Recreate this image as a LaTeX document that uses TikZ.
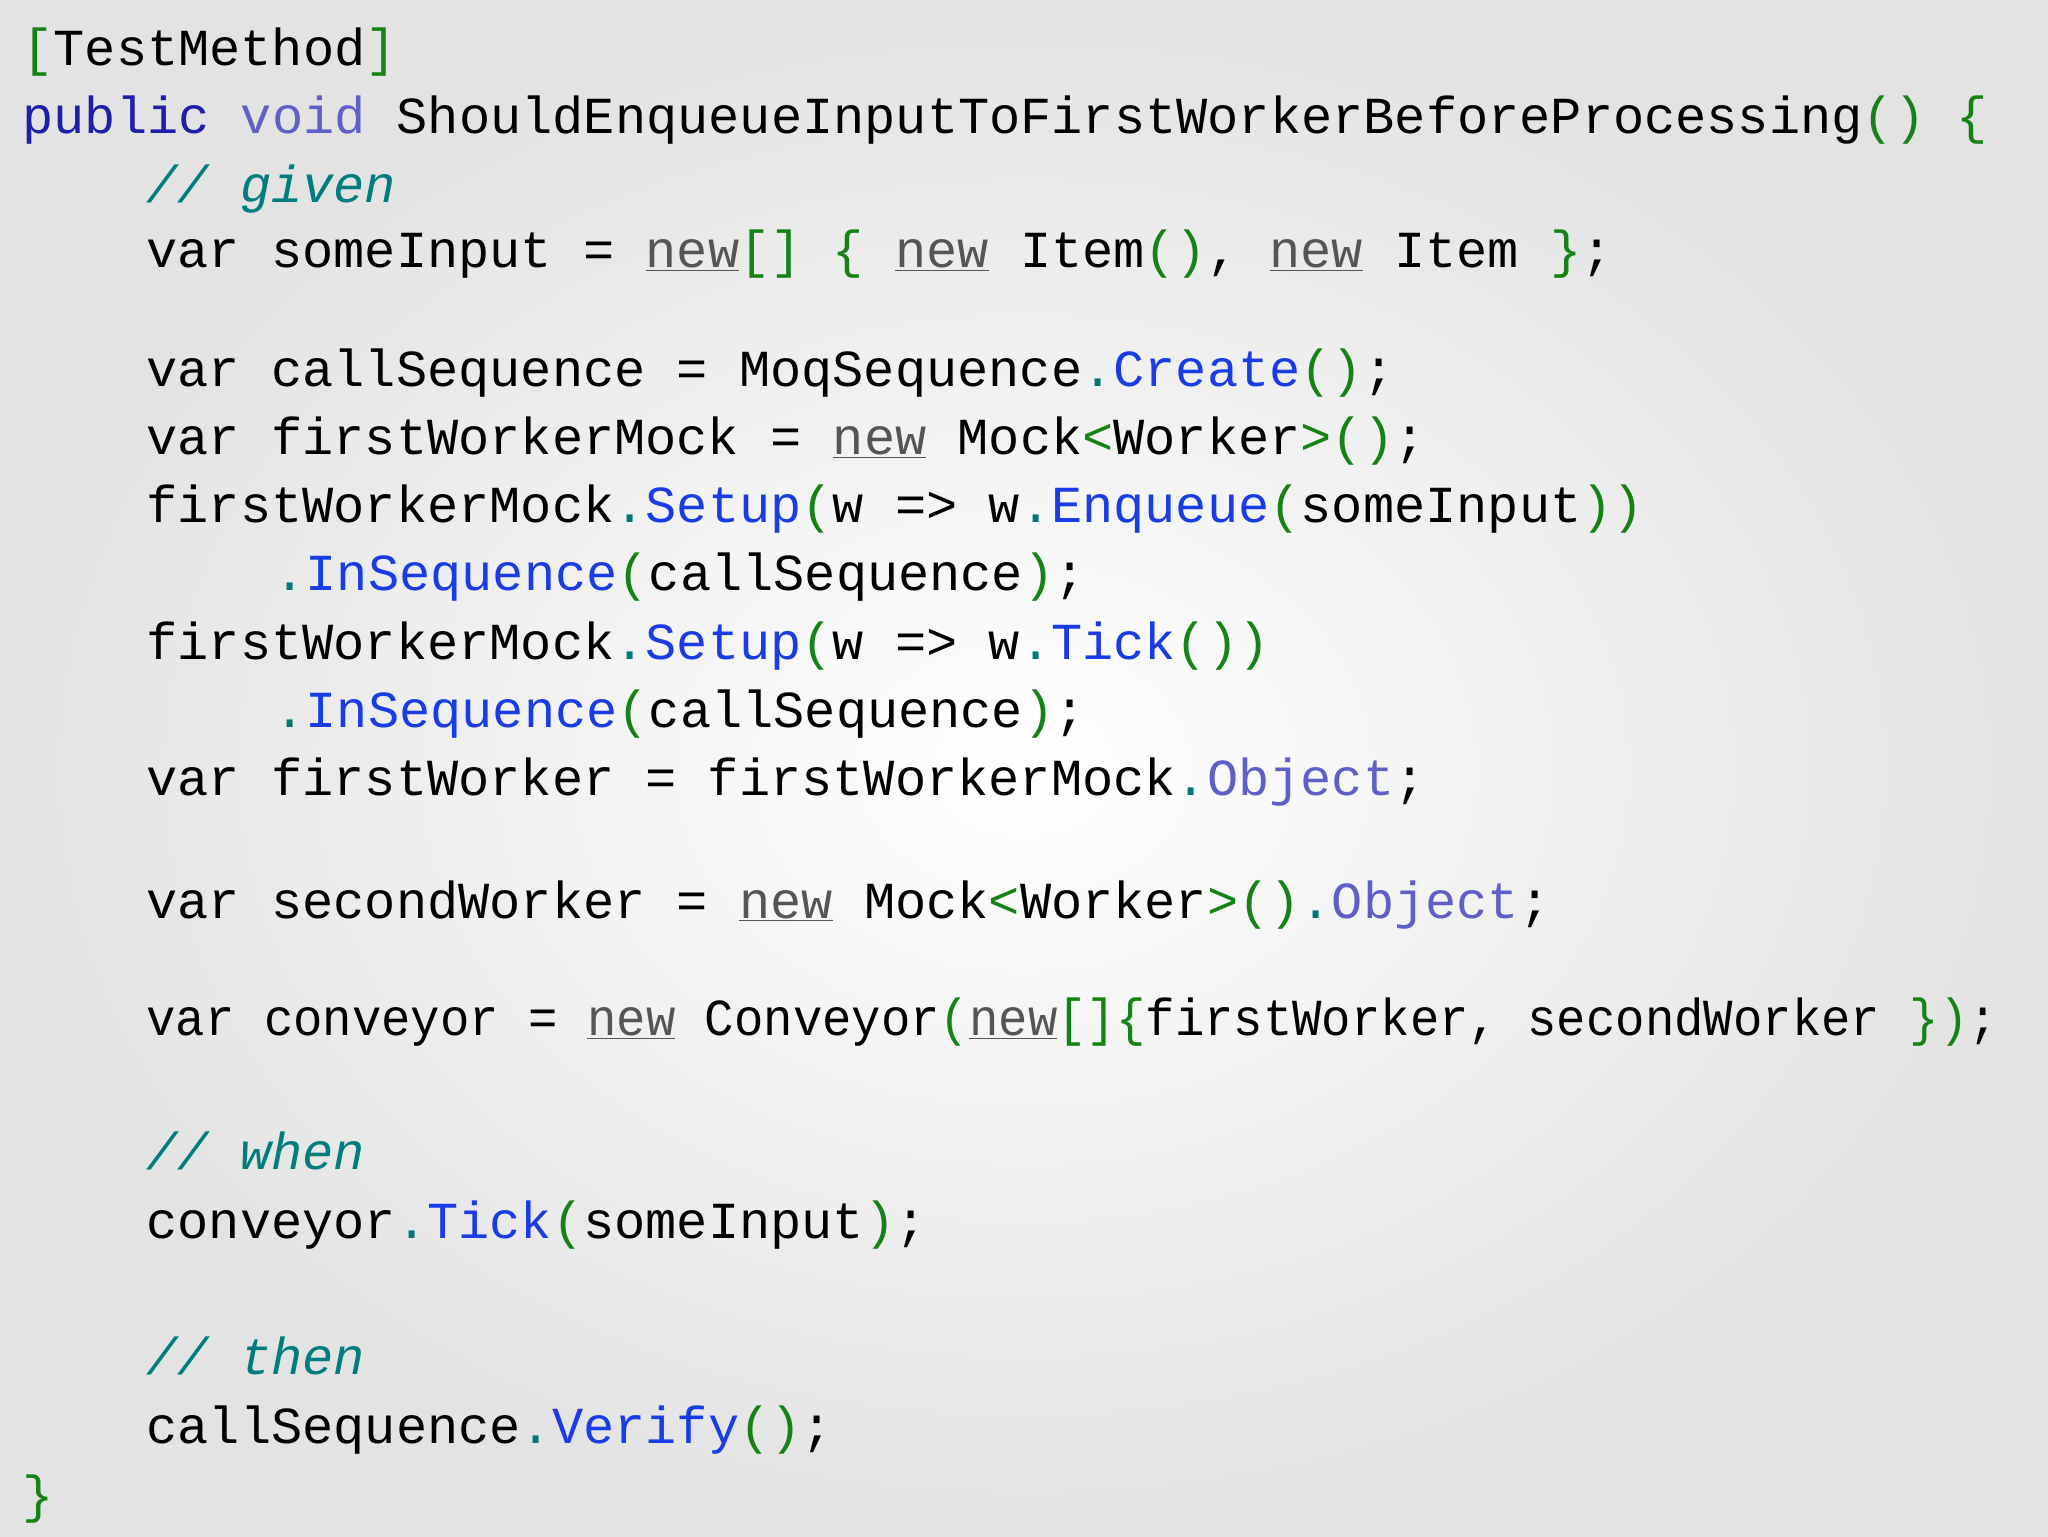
\documentclass[tikz,border=0pt]{standalone}
\usepackage{fontspec}
\setmonofont{Liberation Mono}
\definecolor{cg}{RGB}{20,130,20}
\definecolor{cm}{RGB}{25,60,230}
\definecolor{cp}{RGB}{95,95,200}
\definecolor{ck}{RGB}{30,30,170}
\definecolor{cc}{RGB}{0,125,125}
\definecolor{cn}{RGB}{85,85,85}
\definecolor{cd}{RGB}{0,120,120}
\newcommand{\G}[1]{\textcolor{cg}{#1}}
\newcommand{\M}[1]{\textcolor{cm}{#1}}
\newcommand{\Pp}[1]{\textcolor{cp}{#1}}
\newcommand{\D}{\textcolor{cd}{.}}
\newcommand{\NW}{\textcolor{cn}{\underline{new}}}
\begin{document}
\begin{tikzpicture}[x=1pt,y=-1pt,
  ln/.style={anchor=base west,inner sep=0pt,font=\ttfamily\fontsize{39.8}{50}\selectfont},
  cmt/.style={ln,font=\ttfamily\itshape\fontsize{39.8}{50}\selectfont,text=cc}]
\shade[inner color=white,outer color=black!11] (0,0) rectangle (1568,1176);
\useasboundingbox (0,0) rectangle (1568,1176);
\def\a{17}\def\b{112}\def\c{210}
\node[ln] (l1) at (\a,50) {\G{[}TestMethod\G{]}};
\node[ln] (l2) at (\a,102) {\textcolor{ck}{public} \textcolor{cp}{void} ShouldEnqueueInputToFirstWorkerBeforeProcessing\G{()} \G{\{}};
\node[cmt] (l3) at (\b,155) {// given};
\node[ln] (l4) at (\b,205) {var someInput = \NW\G{[]} \G{\{} \NW{} Item\G{()}, \NW{} Item \G{\}};};
\node[ln] (l5) at (\b,296) {var callSequence = MoqSequence\D\M{Create}\G{()};};
\node[ln] (l6) at (\b,348) {var firstWorkerMock = \NW{} Mock\G{<}Worker\G{>()};};
\node[ln] (l7) at (\b,400) {firstWorkerMock\D\M{Setup}\G{(}w => w\D\M{Enqueue}\G{(}someInput\G{))}};
\node[ln] (l8) at (\c,452) {\D\M{InSequence}\G{(}callSequence\G{)};};
\node[ln] (l9) at (\b,505) {firstWorkerMock\D\M{Setup}\G{(}w => w\D\M{Tick}\G{())}};
\node[ln] (l10) at (\c,557) {\D\M{InSequence}\G{(}callSequence\G{)};};
\node[ln] (l11) at (\b,609) {var firstWorker = firstWorkerMock\D\Pp{Object};};
\node[ln] (l12) at (\b,703) {var secondWorker = \NW{} Mock\G{<}Worker\G{>()}\D\Pp{Object};};
\node[ln,xscale=0.942] (l13) at (\b,793) {var conveyor = \NW{} Conveyor\G{(}\NW\G{[]\{}firstWorker, secondWorker \G{\})};};
\node[cmt] (l14) at (\b,895) {// when};
\node[ln] (l15) at (\b,948) {conveyor\D\M{Tick}\G{(}someInput\G{)};};
\node[cmt] (l16) at (\b,1052) {// then};
\node[ln] (l17) at (\b,1105) {callSequence\D\M{Verify}\G{()};};
\node[ln] (l18) at (\a,1158) {\G{\}}};
\end{tikzpicture}
\end{document}
